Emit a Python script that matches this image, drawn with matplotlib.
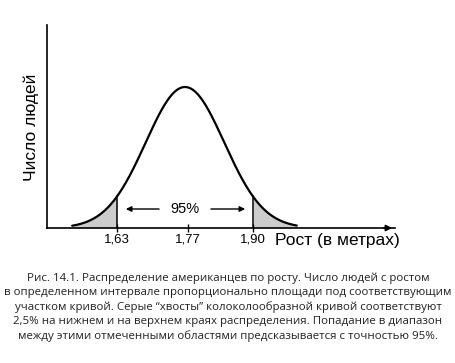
import numpy as np
import matplotlib
matplotlib.use("Agg")
import matplotlib.pyplot as plt

# bell curve of heights (schematic)
mean_h = 1.765
sd_h = 0.078
curve_lo, curve_hi = 1.541, 1.987
cut_lo, cut_hi = 1.63, 1.90
tick_pos = [1.63, 1.77, 1.90]
tick_labels = ['1,63', '1,77', '1,90']
mid_label = '95%'
xlabel = 'Рост (в метрах)'
ylabel = 'Число людей'
caption_lines = [
    'Рис. 14.1. Распределение американцев по росту. Число людей с ростом',
    'в определенном интервале пропорционально площади под соответствующим',
    'участком кривой. Серые \u201cхвосты\u201d колоколообразной кривой соответствуют',
    '2,5% на нижнем и на верхнем краях распределения. Попадание в диапазон',
    'между этими отмеченными областями предсказывается с точностью 95%.',
]

x = np.linspace(curve_lo, curve_hi, 400)
y = np.exp(-0.5 * ((x - mean_h) / sd_h) ** 2) / (sd_h * np.sqrt(2 * np.pi))
peak = y.max()

W, H = 456, 363
fig = plt.figure(figsize=(W / 100, H / 100), dpi=100)
ax = fig.add_axes([47 / W, (H - 228) / H, (395 - 47) / W, (228 - 25) / H])
ax.set_xlim(1.491, 2.182)
ax.set_ylim(0, peak * 203 / 141)

ax.plot(x, y, color='black', lw=1.6, solid_capstyle='round')
lo = x <= cut_lo
hi = x >= cut_hi
ax.fill_between(x[lo], 0, y[lo], color='#cccccc', lw=0)
ax.fill_between(x[hi], 0, y[hi], color='#cccccc', lw=0)
for c in (cut_lo, cut_hi):
    yc = np.exp(-0.5 * ((c - mean_h) / sd_h) ** 2) / (sd_h * np.sqrt(2 * np.pi))
    ax.plot([c, c], [0, yc], color='black', lw=1.1)

# 95% label with arrows
ya = peak * 19 / 141
ax.text((cut_lo + cut_hi) / 2, ya, mid_label, ha='center', va='center',
        fontsize=10.5, family='Liberation Sans')
ax.annotate('', xy=(cut_lo + 0.012, ya), xytext=(cut_lo + 0.089, ya),
            arrowprops=dict(arrowstyle='-|>', color='black', lw=1, mutation_scale=8))
ax.annotate('', xy=(cut_hi - 0.010, ya), xytext=(cut_hi - 0.089, ya),
            arrowprops=dict(arrowstyle='-|>', color='black', lw=1, mutation_scale=8))

for s in ['top', 'right']:
    ax.spines[s].set_visible(False)
ax.spines['left'].set_linewidth(1.2)
ax.spines['bottom'].set_linewidth(1.2)
ax.set_yticks([])
ax.set_xticks(tick_pos)
ax.set_xticklabels(tick_labels, fontsize=9.5, family='Liberation Sans')
ax.tick_params(axis='x', direction='inout', length=6, width=1, pad=1)
ax.annotate('', xy=(1.0, 0), xytext=(0.96, 0), xycoords='axes fraction',
            arrowprops=dict(arrowstyle='-|>', color='black', lw=1.2, mutation_scale=9))

ax.text(1.944, -12 / 203, xlabel, transform=ax.get_xaxis_transform(),
        ha='left', va='center', fontsize=12.5, family='Liberation Sans')
fig.text(31 / W, 1 - 127 / H, ylabel, rotation=90, ha='center', va='center',
         fontsize=12.5, family='Liberation Sans')

for i, line in enumerate(caption_lines):
    fig.text(0.5, 1 - (278 + 14.5 * i) / H, line, ha='center', va='center',
             fontsize=8.25, family='Open Sans', color='#222222')

fig.savefig('out.png', dpi=100, facecolor='white')
